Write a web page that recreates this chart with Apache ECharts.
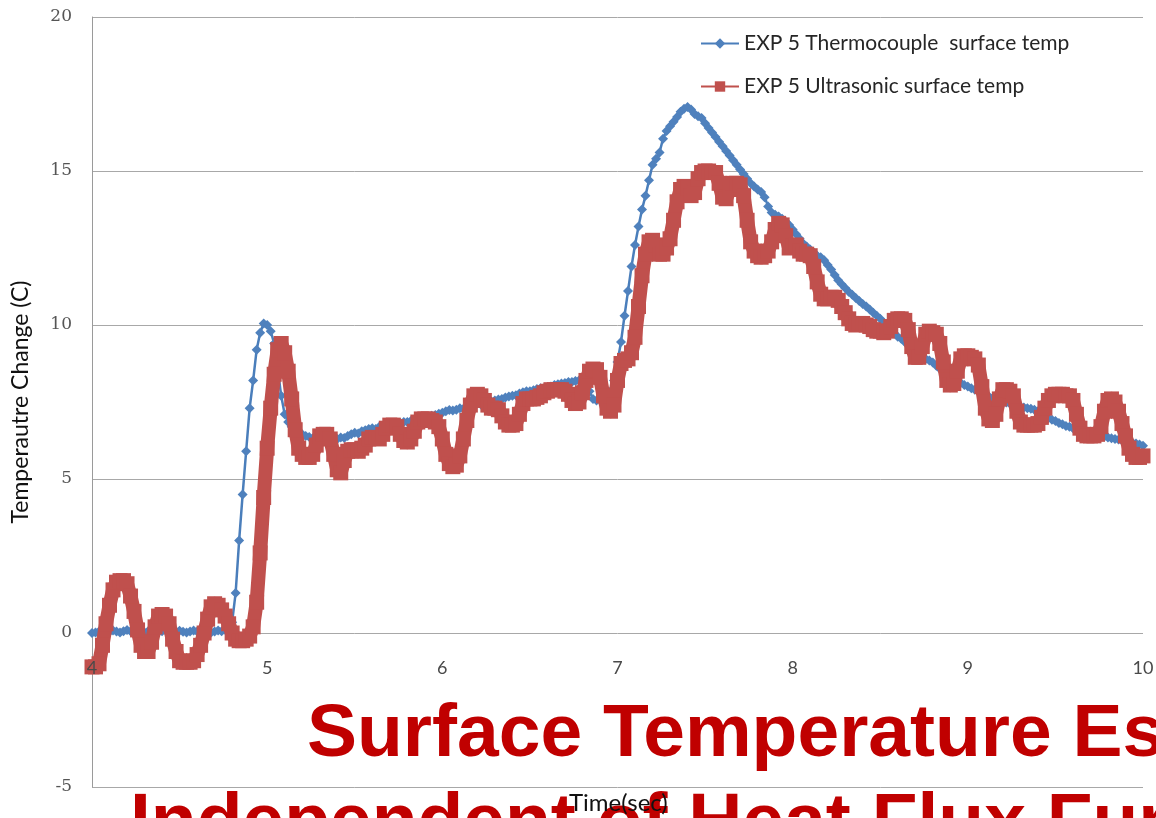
<!DOCTYPE html>
<html>
<head>
<meta charset="utf-8">
<script src="https://cdn.jsdelivr.net/npm/echarts@6/dist/echarts.min.js"></script>
<style>html,body{margin:0;padding:0;background:#fff;overflow:hidden}#c{width:1156px;height:818px}</style>
</head>
<body>
<div id="c"></div>
<script>
// sampling of the records (seconds)
const T_START = 4.0;
const T_STEP = 0.02;
const xTicks = [4, 5, 6, 7, 8, 9, 10];
const yTicks = [-5, 0, 5, 10, 15, 20];
const seriesNames = ['EXP 5 Thermocouple  surface temp', 'EXP 5 Ultrasonic surface temp'];

// EXP 5 Thermocouple surface temp (C), t = 4.00 ... 10.00 step 0.02
const thermocouple = [
 0.00,0.02,0.05,0.03,0.00,0.04,0.08,0.05,0.02,0.06,
 0.10,0.06,0.03,0.07,0.05,0.02,0.06,0.09,0.05,0.03,
 0.06,0.08,0.04,0.02,0.05,0.07,0.04,0.02,0.05,0.08,
 0.05,0.03,0.06,0.04,0.02,0.05,0.08,0.06,0.10,0.15,
 0.35,1.30,3.00,4.50,5.90,7.30,8.20,9.20,9.75,10.05,
 10.00,9.80,9.40,8.60,7.70,7.10,6.85,6.70,6.60,6.50,
 6.45,6.40,6.36,6.32,6.30,6.27,6.27,6.30,6.28,6.32,
 6.30,6.35,6.33,6.40,6.45,6.50,6.48,6.55,6.58,6.62,
 6.65,6.62,6.70,6.72,6.75,6.75,6.78,6.80,6.82,6.85,
 6.85,6.88,6.90,6.92,6.95,6.98,7.00,7.05,7.08,7.12,
 7.15,7.20,7.24,7.22,7.25,7.30,7.28,7.30,7.32,7.40,
 7.45,7.42,7.48,7.50,7.52,7.55,7.58,7.60,7.65,7.68,
 7.70,7.72,7.78,7.82,7.85,7.85,7.88,7.92,7.95,7.95,
 7.98,8.00,8.05,8.08,8.10,8.12,8.15,8.15,8.18,8.20,
 8.18,8.10,7.85,7.60,7.55,7.60,7.65,7.70,7.85,8.20,
 8.80,9.45,10.30,11.10,11.90,12.60,13.20,13.75,14.20,14.70,
 15.20,15.40,15.60,16.05,16.30,16.45,16.60,16.75,16.92,17.02,
 17.08,17.00,16.85,16.78,16.72,16.55,16.40,16.25,16.10,15.95,
 15.80,15.65,15.50,15.35,15.20,15.05,14.90,14.75,14.60,14.50,
 14.40,14.32,14.15,13.85,13.65,13.58,13.52,13.45,13.35,13.25,
 13.10,12.95,12.80,12.65,12.55,12.45,12.35,12.25,12.20,12.10,
 11.95,11.80,11.62,11.45,11.32,11.20,11.08,10.98,10.88,10.78,
 10.68,10.60,10.50,10.40,10.30,10.20,10.08,9.95,9.85,9.72,
 9.62,9.55,9.45,9.35,9.25,9.15,9.05,8.98,8.90,8.85,
 8.78,8.68,8.58,8.50,8.42,8.35,8.28,8.20,8.12,8.05,
 8.00,7.95,7.90,7.85,7.78,7.72,7.68,7.62,7.58,7.55,
 7.50,7.48,7.45,7.40,7.38,7.35,7.32,7.30,7.28,7.25,
 7.20,7.12,7.05,6.98,6.92,6.88,6.82,6.78,6.72,6.70,
 6.65,6.62,6.58,6.55,6.52,6.48,6.45,6.42,6.40,6.38,
 6.35,6.32,6.30,6.28,6.25,6.22,6.20,6.18,6.15,6.12,
 6.08
];

// EXP 5 Ultrasonic surface temp (C), t = 4.00 ... 10.00 step 0.02
const ultrasonic = [
 -1.10,-1.10,-1.00,-0.40,0.30,0.90,1.40,1.65,1.70,1.70,
 1.60,1.20,0.70,0.10,-0.40,-0.60,-0.60,-0.30,0.20,0.55,
 0.60,0.55,0.30,-0.20,-0.60,-0.90,-0.95,-0.95,-0.95,-0.90,
 -0.70,-0.40,0.00,0.45,0.85,0.95,0.90,0.75,0.55,0.30,
 0.00,-0.20,-0.25,-0.25,-0.20,-0.10,0.20,1.00,2.60,4.40,
 6.00,7.30,8.40,9.20,9.40,9.10,8.50,7.60,6.60,6.00,
 5.80,5.70,5.70,5.80,6.10,6.40,6.45,6.45,6.30,5.80,
 5.30,5.20,5.60,5.90,5.95,5.95,5.90,6.00,6.10,6.30,
 6.35,6.35,6.30,6.45,6.65,6.75,6.75,6.70,6.45,6.25,
 6.20,6.30,6.55,6.85,6.95,6.95,6.95,6.90,6.85,6.70,
 6.30,5.80,5.50,5.40,5.45,5.75,6.30,6.90,7.40,7.70,
 7.75,7.70,7.55,7.40,7.30,7.30,7.25,7.05,6.85,6.75,
 6.75,6.80,7.10,7.45,7.60,7.60,7.60,7.65,7.70,7.80,
 7.85,7.90,7.90,7.90,7.90,7.85,7.75,7.55,7.45,7.50,
 7.80,8.20,8.50,8.57,8.55,8.30,7.70,7.30,7.20,7.40,
 8.20,8.75,8.85,8.90,9.10,9.60,10.60,11.60,12.30,12.70,
 12.75,12.60,12.30,12.30,12.50,12.80,13.40,14.00,14.40,14.50,
 14.45,14.20,14.30,14.75,14.95,15.00,15.00,14.95,14.95,14.60,
 14.15,14.10,14.40,14.60,14.60,14.55,14.20,13.40,12.70,12.40,
 12.25,12.20,12.25,12.40,12.70,13.10,13.30,13.25,12.90,12.50,
 12.55,12.60,12.40,12.30,12.30,12.25,11.90,11.40,11.00,10.85,
 10.85,10.90,10.90,10.80,10.60,10.40,10.20,10.05,10.00,10.05,
 10.05,10.00,9.95,9.85,9.80,9.80,9.75,9.80,9.95,10.15,
 10.20,10.20,10.15,9.85,9.30,8.95,8.95,9.30,9.70,9.80,
 9.75,9.70,9.40,8.80,8.20,8.05,8.10,8.50,8.90,9.00,
 9.00,8.95,8.90,8.70,8.00,7.30,6.95,6.90,7.10,7.60,
 7.90,7.90,7.85,7.70,7.20,6.85,6.75,6.75,6.75,6.75,
 6.80,7.00,7.30,7.55,7.70,7.75,7.75,7.75,7.70,7.70,
 7.55,7.10,6.65,6.45,6.40,6.40,6.40,6.45,6.70,7.20,
 7.55,7.60,7.50,7.20,6.80,6.40,6.00,5.80,5.70,5.70,
 5.75
];

const overlayLines = ['Surface Temperature Es', 'Independent of Heat Flux Fun'];
const axisNames = { x: 'Time(sec)', y: 'Temperautre Change (C)' };

function pairs(vals) {
  return vals.map((v, i) => [+(T_START + i * T_STEP).toFixed(2), v]);
}

const chart = echarts.init(document.getElementById('c'), null, { renderer: 'canvas' });
chart.setOption({
  animation: false,
  backgroundColor: '#ffffff',
  grid: { left: 92, right: 13, top: 17, bottom: 31, containLabel: false, outerBoundsMode: 'none' },
  legend: {
    orient: 'vertical',
    left: 700,
    top: 33,
    padding: 0,
    itemWidth: 38,
    itemHeight: 13,
    itemGap: 22,
    textStyle: { fontFamily: 'Lato', fontSize: 21, color: '#262626' },
    data: seriesNames
  },
  xAxis: {
    type: 'value',
    position: 'bottom',
    min: 4, max: 10, interval: 1,
    z: 20,
    axisLine: { show: false, onZero: false },
    axisTick: { show: false },
    splitLine: { show: false },
    axisLabel: {
      margin: -128,
      fontFamily: 'Lato', fontSize: 18, color: '#4a4a4a',
      formatter: v => xTicks.includes(v) ? String(v) : ''
    }
  },
  yAxis: {
    type: 'value',
    min: -5, max: 20, interval: 5,
    axisLine: { show: true, onZero: false, lineStyle: { color: '#9a9a9a', width: 1 } },
    axisTick: { show: false },
    splitLine: { show: true, lineStyle: { color: '#a8a8a8', width: 1 } },
    axisLabel: {
      margin: 20,
      fontFamily: 'DejaVu Serif', fontSize: 17, color: '#555555',
      formatter: v => yTicks.includes(v) ? String(v) : ''
    },
    name: axisNames.y,
    nameLocation: 'middle',
    nameGap: 60,
    nameTextStyle: { fontFamily: 'Lato', fontSize: 23, color: '#111111' }
  },
  series: [
    {
      name: seriesNames[0],
      type: 'line',
      data: pairs(thermocouple),
      symbol: 'diamond',
      symbolSize: 10,
      showAllSymbol: true,
      lineStyle: { color: '#4A7EBB', width: 2.5 },
      itemStyle: { color: '#4F81BD' },
      z: 2
    },
    {
      name: seriesNames[1],
      type: 'line',
      data: pairs(ultrasonic),
      symbol: 'rect',
      symbolSize: 15,
      showAllSymbol: true,
      lineStyle: { color: '#C0504D', width: 14, join: 'round' },
      itemStyle: { color: '#C0504D' },
      z: 3
    }
  ],
  graphic: [
    {
      type: 'text', left: 307, top: 698, z: 50, silent: true,
      style: { text: overlayLines[0], font: 'bold 75px "Liberation Sans", Arial, sans-serif', fill: '#C00000' }
    },
    {
      type: 'text', left: 130, top: 787, z: 50, silent: true,
      style: { text: overlayLines[1], font: 'bold 75px "Liberation Sans", Arial, sans-serif', fill: '#C00000' }
    },
    {
      type: 'text', left: 569, top: 791, z: 60, silent: true,
      style: { text: axisNames.x, font: '24px Lato', fill: '#111111' }
    }
  ]
});
</script>
</body>
</html>
